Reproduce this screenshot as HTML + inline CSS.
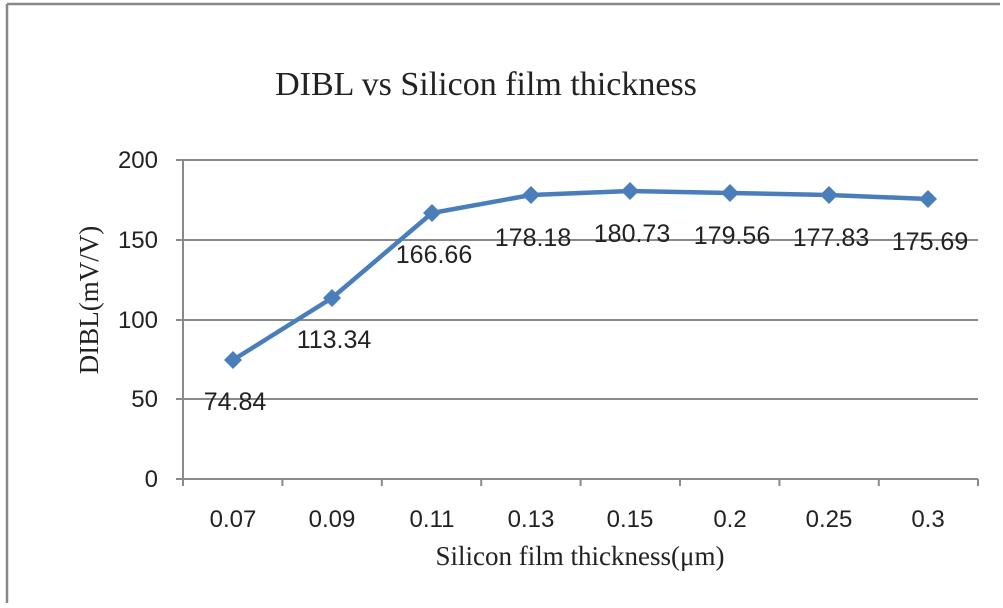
<!DOCTYPE html>
<html><head><meta charset="utf-8"><style>
html,body{margin:0;padding:0;background:#fff;}
</style></head><body>
<svg width="1003" height="603" xmlns="http://www.w3.org/2000/svg">
<rect x="0" y="0" width="1003" height="603" fill="#fff"/>
<line x1="7" y1="4" x2="1000" y2="4" stroke="#888" stroke-width="2.5"/>
<line x1="7" y1="4" x2="7" y2="603" stroke="#888" stroke-width="2.5"/>
<text x="486" y="95" font-family="Liberation Serif, serif" font-size="34" text-anchor="middle" fill="#222">DIBL vs Silicon film thickness</text>
<g stroke="#8a8a8a" stroke-width="2">
<line x1="176" y1="160" x2="978" y2="160"/>
<line x1="176" y1="240" x2="978" y2="240"/>
<line x1="176" y1="320" x2="978" y2="320"/>
<line x1="176" y1="399" x2="978" y2="399"/>
<line x1="176" y1="479" x2="978" y2="479"/>
<line x1="183" y1="160" x2="183" y2="486"/>
<line x1="282.4" y1="479" x2="282.4" y2="486"/>
<line x1="381.8" y1="479" x2="381.8" y2="486"/>
<line x1="481.2" y1="479" x2="481.2" y2="486"/>
<line x1="580.6" y1="479" x2="580.6" y2="486"/>
<line x1="680" y1="479" x2="680" y2="486"/>
<line x1="779.4" y1="479" x2="779.4" y2="486"/>
<line x1="878.8" y1="479" x2="878.8" y2="486"/>
<line x1="978" y1="479" x2="978" y2="486"/>
</g>
<g font-family="Liberation Sans, sans-serif" font-size="24" fill="#222" text-anchor="end">
<text x="158" y="168">200</text>
<text x="158" y="248">150</text>
<text x="158" y="328">100</text>
<text x="158" y="407">50</text>
<text x="158" y="487">0</text>
</g>
<g font-family="Liberation Sans, sans-serif" font-size="24" fill="#222" text-anchor="middle">
<text x="233" y="527">0.07</text>
<text x="332" y="527">0.09</text>
<text x="432" y="527">0.11</text>
<text x="531" y="527">0.13</text>
<text x="630" y="527">0.15</text>
<text x="730" y="527">0.2</text>
<text x="829" y="527">0.25</text>
<text x="928" y="527">0.3</text>
</g>
<text x="580" y="565" font-family="Liberation Serif, serif" font-size="27" text-anchor="middle" fill="#222">Silicon film thickness(μm)</text>
<text transform="translate(98,300) rotate(-90)" font-family="Liberation Serif, serif" font-size="27" text-anchor="middle" fill="#222">DIBL(mV/V)</text>
<polyline fill="none" stroke="#4a7ebb" stroke-width="4.5" stroke-linejoin="round"
points="233,360 332,298 432,213 531,195 630,191 730,193 829,195 928,199"/>
<g fill="#4a7ebb">
<path d="M233,351 l9,9 l-9,9 l-9,-9z"/>
<path d="M332,289 l9,9 l-9,9 l-9,-9z"/>
<path d="M432,204 l9,9 l-9,9 l-9,-9z"/>
<path d="M531,186 l9,9 l-9,9 l-9,-9z"/>
<path d="M630,182 l9,9 l-9,9 l-9,-9z"/>
<path d="M730,184 l9,9 l-9,9 l-9,-9z"/>
<path d="M829,186 l9,9 l-9,9 l-9,-9z"/>
<path d="M928,190 l9,9 l-9,9 l-9,-9z"/>
</g>
<g font-family="Liberation Sans, sans-serif" font-size="25" fill="#222" text-anchor="middle">
<text x="235" y="410">74.84</text>
<text x="334" y="348">113.34</text>
<text x="434" y="263">166.66</text>
<text x="533" y="246">178.18</text>
<text x="632" y="242">180.73</text>
<text x="732" y="244">179.56</text>
<text x="831" y="246">177.83</text>
<text x="930" y="250">175.69</text>
</g>
</svg>
</body></html>
